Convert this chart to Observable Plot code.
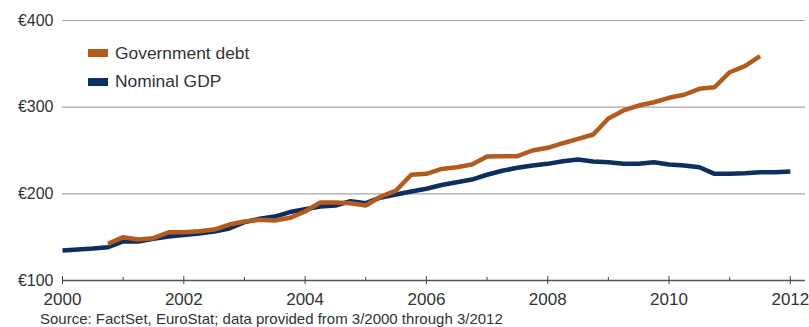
<!DOCTYPE html>
<html>
<head>
<meta charset="utf-8">
<script src="https://cdn.jsdelivr.net/npm/d3@7"></script>
<script src="https://cdn.jsdelivr.net/npm/@observablehq/plot@0.6"></script>
<style>
  html, body { margin: 0; padding: 0; background: #fff; }
  #wrap { position: relative; width: 809px; height: 327px; font-family: "Liberation Sans", Arial, sans-serif; color: #333; }
  #legend { position: absolute; left: 88px; top: 39px; font-size: 17.4px; }
  .item { display: flex; align-items: center; height: 28.5px; }
  .swatch { width: 20px; height: 8px; margin-right: 7px; }
  #source { position: absolute; left: 40px; top: 310px; font-size: 15px; white-space: nowrap; }
</style>
</head>
<body>
<div id="wrap">
  <div id="chart"></div>
  <div id="legend"></div>
  <div id="source"></div>
</div>
<script>
// Quarterly observations, 3/2000 through 3/2012 (euros)
const quarters = [
  "3/2000","6/2000","9/2000","12/2000","3/2001","6/2001","9/2001","12/2001",
  "3/2002","6/2002","9/2002","12/2002","3/2003","6/2003","9/2003","12/2003",
  "3/2004","6/2004","9/2004","12/2004","3/2005","6/2005","9/2005","12/2005",
  "3/2006","6/2006","9/2006","12/2006","3/2007","6/2007","9/2007","12/2007",
  "3/2008","6/2008","9/2008","12/2008","3/2009","6/2009","9/2009","12/2009",
  "3/2010","6/2010","9/2010","12/2010","3/2011","6/2011","9/2011","12/2011",
  "3/2012"
];

const nominalGDP = [
  134.6, 135.8, 136.9, 138.4, 145.0, 145.0, 148.1, 150.8,
  152.5, 154.2, 156.5, 160.0, 167.3, 171.2, 173.8, 179.0,
  182.3, 185.4, 186.5, 191.5, 189.2, 195.8, 199.2, 202.7,
  205.8, 210.2, 213.4, 216.5, 222.0, 226.6, 230.0, 232.7,
  234.6, 237.6, 239.6, 237.3, 236.5, 234.6, 234.6, 236.5,
  233.8, 232.7, 230.7, 223.1, 223.1, 223.8, 225.0, 225.0,
  225.8
];

// Government debt series (no reading for the first three quarters)
const governmentDebt = [
  null, null, null, 142.3, 150.0, 147.3, 148.8, 155.7,
  155.7, 156.9, 158.8, 164.6, 168.1, 170.0, 169.2, 172.3,
  179.6, 190.0, 190.0, 189.2, 186.5, 196.9, 203.8, 222.0,
  223.1, 228.7, 230.7, 233.8, 243.1, 243.4, 243.4, 250.0,
  253.1, 258.4, 263.5, 268.5, 286.9, 296.2, 301.9, 305.7,
  310.8, 314.3, 321.2, 323.0, 340.3, 347.3, 358.8
];

const seriesNames = ["Government debt", "Nominal GDP"];
const seriesColors = ["#b35a1f", "#0d2f5f"];

const yTicks = [100, 200, 300, 400];
const yGrid = [200, 300, 400];
const majorYears = [2000, 2002, 2004, 2006, 2008, 2010, 2012];
const minorYears = [2001, 2003, 2005, 2007, 2009, 2011];
const sourceText = "Source: FactSet, EuroStat; data provided from 3/2000 through 3/2012";

// Quarter label "m/yyyy" -> fractional year, with 3/2000 placed at 2000
const toYear = q => { const [m, y] = q.split("/").map(Number); return y + (m - 3) / 12; };

const rows = [];
quarters.forEach((q, i) => {
  rows.push({t: toYear(q), value: nominalGDP[i], series: seriesNames[1]});
});
quarters.forEach((q, i) => {
  if (governmentDebt[i] != null) rows.push({t: toYear(q), value: governmentDebt[i], series: seriesNames[0]});
});

const font = "Liberation Sans, Arial, sans-serif";

const chart = Plot.plot({
  width: 809,
  height: 310,
  marginLeft: 62,
  marginRight: 4,
  marginTop: 20,
  marginBottom: 30,
  style: {fontFamily: font, fontSize: "16px", color: "#333", background: "#fff"},
  x: {domain: [2000, 2012.25]},
  y: {domain: [100, 400]},
  color: {domain: seriesNames, range: seriesColors},
  marks: [
    Plot.ruleY(yGrid, {stroke: "#a6a6a6", strokeWidth: 1.2}),
    Plot.ruleY([100], {stroke: "#555", strokeWidth: 1.4}),
    Plot.axisY({ticks: yTicks, tickSize: 0, tickPadding: 9, tickFormat: d => "€" + d, label: null, fontSize: 16, fill: "#333"}),
    Plot.axisX({ticks: majorYears, tickSize: 8, dy: -4, tickFormat: () => "", label: null, stroke: "#444"}),
    Plot.axisX({ticks: minorYears, tickSize: 3, dy: -3, tickFormat: () => "", label: null, stroke: "#444"}),
    Plot.axisX({ticks: majorYears, tickSize: 0, tickPadding: 12, tickFormat: d => String(d), label: null, fontSize: 17, fill: "#333"}),
    Plot.line(rows.filter(d => d.series === seriesNames[1]), {x: "t", y: "value", stroke: "series", strokeWidth: 4.5, strokeLinejoin: "miter", strokeLinecap: "butt"}),
    Plot.line(rows.filter(d => d.series === seriesNames[0]), {x: "t", y: "value", stroke: "series", strokeWidth: 4.5, strokeLinejoin: "miter", strokeLinecap: "butt"})
  ]
});
document.getElementById("chart").appendChild(chart);

const legend = document.getElementById("legend");
seriesNames.forEach((name, i) => {
  const item = document.createElement("div");
  item.className = "item";
  const sw = document.createElement("span");
  sw.className = "swatch";
  sw.style.background = seriesColors[i];
  const label = document.createElement("span");
  label.textContent = name;
  item.appendChild(sw);
  item.appendChild(label);
  legend.appendChild(item);
});
document.getElementById("source").textContent = sourceText;
</script>
</body>
</html>
